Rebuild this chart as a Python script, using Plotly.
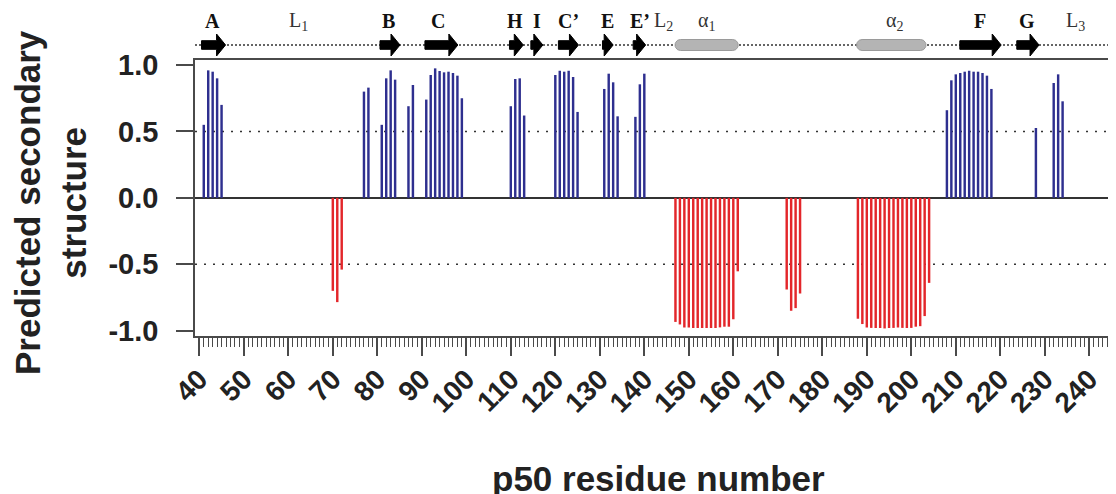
import numpy as np
import plotly.graph_objects as go

# ---------------- data ----------------
strand_residues = [41, 42, 43, 44, 45,
                   77, 78,
                   81, 82, 83, 84,
                   87, 88,
                   91, 92, 93, 94, 95, 96, 97, 98, 99,
                   110, 111, 112, 113,
                   120, 121, 122, 123, 124, 125,
                   131, 132, 133, 134,
                   138, 139, 140,
                   208, 209, 210, 211, 212, 213, 214, 215, 216, 217, 218,
                   228,
                   232, 233, 234]
strand_values = [0.55, 0.96, 0.95, 0.90, 0.70,
                 0.80, 0.83,
                 0.55, 0.90, 0.96, 0.89,
                 0.69, 0.85,
                 0.74, 0.925, 0.975, 0.955, 0.945, 0.95, 0.94, 0.92, 0.75,
                 0.69, 0.895, 0.90, 0.62,
                 0.925, 0.957, 0.95, 0.957, 0.91, 0.647,
                 0.82, 0.935, 0.87, 0.614,
                 0.61, 0.855, 0.935,
                 0.66, 0.885, 0.93, 0.94, 0.95, 0.957, 0.95, 0.95, 0.94, 0.92, 0.82,
                 0.526,
                 0.865, 0.93, 0.727]

helix_residues = [70, 71, 72,
                  147, 148, 149, 150, 151, 152, 153, 154, 155, 156, 157, 158, 159, 160, 161,
                  172, 173, 174, 175,
                  188, 189, 190, 191, 192, 193, 194, 195, 196, 197, 198, 199, 200, 201, 202, 203, 204]
helix_values = [-0.70, -0.785, -0.54,
                -0.934, -0.953, -0.976, -0.976, -0.98, -0.98, -0.98, -0.98, -0.98, -0.98,
                -0.975, -0.97, -0.97, -0.914, -0.553,
                -0.69, -0.85, -0.83, -0.72,
                -0.91, -0.95, -0.976, -0.979, -0.98, -0.98, -0.983, -0.98, -0.979, -0.976,
                -0.979, -0.98, -0.979, -0.97, -0.966, -0.89, -0.64]

y_tick_values = [-1.0, -0.5, 0.0, 0.5, 1.0]
y_tick_labels = ["-1.0", "-0.5", "0.0", "0.5", "1.0"]

# secondary-structure topology (residue spans)
strand_names = ["A", "B", "C", "H", "I", "C’", "E", "E’", "F", "G"]
strand_starts = [40.5, 80.6, 90.7, 109.7, 114.5, 120.7, 130.6, 137.5, 210.9, 223.7]
strand_ends = [45.9, 85.1, 98.1, 112.8, 117.2, 125.2, 133.0, 140.3, 220.2, 228.7]
strand_label_pos = [43.0, 82.6, 93.7, 110.9, 115.8, 122.9, 131.7, 139.0, 215.4, 225.9]

helix_names = ["α<sub>1</sub>", "α<sub>2</sub>"]
helix_starts = [146.9, 187.7]
helix_ends = [161.1, 203.3]
helix_label_pos = [154.0, 196.3]

loop_names = ["L<sub>1</sub>", "L<sub>2</sub>", "L<sub>3</sub>"]
loop_label_pos = [62.2, 144.3, 236.8]

# ---------------- layout geometry ----------------
# the page adds an 8px body margin, so the figure is offset by (8, 8)
OFF = 8
W, H = 1116 - OFF, 494 - OFF
ML, MR, MT = 195 - OFF, 0, 0
plot_bottom = 336 - OFF
MB = H - plot_bottom
plot_w = W - ML - MR
plot_h = H - MT - MB
strip_h = 60 - OFF
X_RANGE = [39.03, 246.0]
px_per_res = plot_w / (X_RANGE[1] - X_RANGE[0])
main_top = (plot_h - strip_h) / plot_h

BLUE = "#2e2f8f"
RED = "#e3262a"
TXT = "#222222"
AXC = "#4a4a4a"

fig = go.Figure()

fig.add_trace(go.Bar(x=strand_residues, y=strand_values, width=0.55,
                     marker=dict(color=BLUE, line=dict(width=0)), showlegend=False))
fig.add_trace(go.Bar(x=helix_residues, y=helix_values, width=0.55,
                     marker=dict(color=RED, line=dict(width=0)), showlegend=False))

# ---------------- topology strip (y2 in page-pixel units) ----------------
yc = 45.0
fig.add_trace(go.Scatter(x=[X_RANGE[0], X_RANGE[1]], y=[yc, yc], mode="lines",
                         line=dict(color="#333333", width=1.5, dash="2px,2px"),
                         xaxis="x", yaxis="y2", showlegend=False, hoverinfo="skip"))

body_half, head_half, head_len = 4.3, 11.0, 9.0 / px_per_res
ax, ay = [], []
for s, e in zip(strand_starts, strand_ends):
    hs = max(s, e - head_len)
    ax += [s, hs, hs, e, hs, hs, s, s, None]
    ay += [yc - body_half, yc - body_half, yc - head_half, yc, yc + head_half,
           yc + body_half, yc + body_half, yc - body_half, None]
fig.add_trace(go.Scatter(x=ax, y=ay, mode="lines", fill="toself", fillcolor="#000000",
                         line=dict(color="#000000", width=1), xaxis="x", yaxis="y2",
                         showlegend=False, hoverinfo="skip"))

pill_r = 5.5
rx = pill_r / px_per_res
px_, py_ = [], []
for s, e in zip(helix_starts, helix_ends):
    t1 = np.linspace(np.pi / 2, 3 * np.pi / 2, 20)
    t2 = np.linspace(-np.pi / 2, np.pi / 2, 20)
    xs = list(s + rx + rx * np.cos(t1)) + list(e - rx + rx * np.cos(t2))
    ys = list(yc - pill_r * np.sin(t1)) + list(yc - pill_r * np.sin(t2))
    px_ += xs + [xs[0], None]
    py_ += ys + [ys[0], None]
fig.add_trace(go.Scatter(x=px_, y=py_, mode="lines", fill="toself", fillcolor="#b4b4b4",
                         line=dict(color="#9a9a9a", width=1), xaxis="x", yaxis="y2",
                         showlegend=False, hoverinfo="skip"))

serif = "Liberation Serif"
for name, xp in zip(strand_names, strand_label_pos):
    fig.add_annotation(x=xp, y=21, xref="x", yref="y2", text=name, showarrow=False,
                       font=dict(family=serif, size=20, color="#111111", weight="bold"))
for name, xp in zip(helix_names + loop_names, helix_label_pos + loop_label_pos):
    fig.add_annotation(x=xp, y=21, xref="x", yref="y2", text=name, showarrow=False,
                       font=dict(family=serif, size=20, color="#333333"))

# dotted reference lines at +/-0.5
for yv in [0.5, -0.5]:
    fig.add_shape(type="line", xref="x domain", yref="y", x0=0, x1=1, y0=yv, y1=yv,
                  line=dict(color="#333333", width=1.5, dash="2px,7px"), layer="below")

# axis titles (positions given in page pixels)
fig.add_annotation(x=(50 - OFF - ML) / plot_w, y=(plot_h - (203 - OFF)) / plot_h,
                   xref="paper", yref="paper",
                   text="Predicted secondary<br>structure", textangle=-90, showarrow=False,
                   font=dict(family="Liberation Sans", size=35, color=TXT, weight="bold"),
                   xanchor="center", yanchor="middle")
fig.add_annotation(x=(658 - OFF - ML) / plot_w, y=(plot_h - (478 - OFF)) / plot_h,
                   xref="paper", yref="paper",
                   text="p50 residue number", showarrow=False,
                   font=dict(family="Liberation Sans", size=35, color=TXT, weight="bold"),
                   xanchor="center", yanchor="middle")

fig.update_layout(
    width=W, height=H,
    margin=dict(l=ML, r=MR, t=MT, b=MB, autoexpand=False),
    paper_bgcolor="white", plot_bgcolor="white",
    barmode="overlay",
    showlegend=False,
    xaxis=dict(range=X_RANGE, showgrid=False, zeroline=False,
               showline=True, linecolor=AXC, linewidth=1.5, mirror=True,
               ticks="outside", tickmode="linear", tick0=40, dtick=10, ticklen=18,
               tickwidth=1.5, tickcolor=AXC, tickangle=-45, ticklabelstandoff=-4,
               tickfont=dict(family="Liberation Sans", size=28, color=TXT, weight="bold"),
               minor=dict(ticks="outside", dtick=1, tick0=40, ticklen=9, tickwidth=1.2,
                          tickcolor=AXC, showgrid=False),
               anchor="y"),
    yaxis=dict(domain=[0, main_top], range=[-1.04, 1.038], showgrid=False,
               zeroline=True, zerolinecolor="#333333", zerolinewidth=1.5,
               showline=True, linecolor=AXC, linewidth=1.5, mirror=False,
               ticks="outside", ticklen=17, tickwidth=1.5, tickcolor=AXC,
               tickvals=y_tick_values, ticktext=y_tick_labels, ticklabelstandoff=12,
               tickfont=dict(family="Liberation Sans", size=29, color=TXT, weight="bold")),
    yaxis2=dict(domain=[main_top, 1], range=[60, OFF], visible=False, anchor="x",
                showgrid=False, zeroline=False),
)

fig.write_html("out.html")
